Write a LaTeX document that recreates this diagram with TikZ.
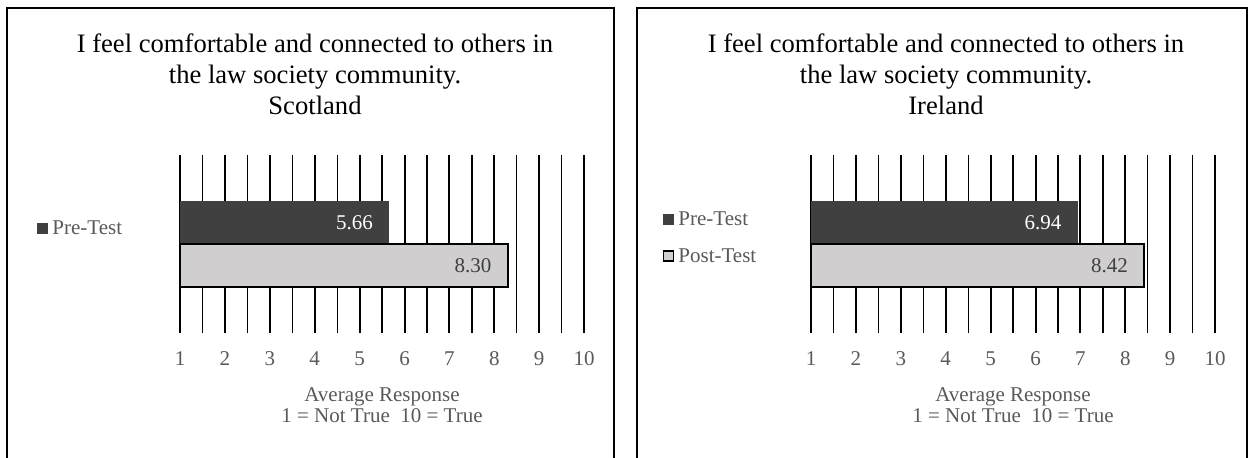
\documentclass[tikz,border=0pt]{standalone}
\usepackage{fontspec}
\setmainfont{Liberation Serif}
\definecolor{barDark}{HTML}{404040}
\definecolor{barLight}{HTML}{D0CECE}
\definecolor{axisGray}{HTML}{595959}
\tikzset{
	panel/.style={draw=black, line width=1pt},
	major/.style={line width=1pt},
	minor/.style={line width=0.65pt},
	darkbar/.style={fill=barDark},
	lightbar/.style={fill=barLight, draw=black, line width=0.75pt},
	charttitle/.style={align=center, inner sep=0pt, font=\fontsize{13.3}{15.5}\selectfont},
	ticklab/.style={inner sep=0pt, text=axisGray, font=\fontsize{10.5}{10.5}\selectfont},
	axistitle/.style={align=center, inner sep=0pt, text=axisGray, font=\fontsize{10.5}{10.5}\selectfont},
	barlab/.style={anchor=east, inner sep=0pt, font=\fontsize{10.5}{10.5}\selectfont},
	legkey/.style={minimum size=5.5pt, inner sep=0pt},
	legtext/.style={anchor=west, inner sep=0pt, text=axisGray, font=\fontsize{10.5}{10.5}\selectfont}
}
\begin{document}
\begin{tikzpicture}[x=0.5pt, y=-0.5pt]
	\useasboundingbox (0,0) rectangle (1252,457);

	% Scotland
	\draw[panel] (7,458) -- (7,8) -- (614,8) -- (614,458);
	\node[charttitle] (titleS) at (315,74) {I feel comfortable and connected to others in\\the law society community.\\Scotland};
	\node[legkey, fill=barDark] (keyPreS) at (42.5,228) {};
	\node[legtext] (legPreS) at (52,228) {Pre-Test};
	\begin{scope}[xshift=90pt]
		\foreach \v in {1,2,...,10}
			\draw[major] ({(\v-1)*44.9},155) -- ({(\v-1)*44.9},333);
		\foreach \v in {1.5,2.5,...,9.5}
			\draw[minor] ({(\v-1)*44.9},155) -- ({(\v-1)*44.9},333);
		\fill[darkbar] (0,201) rectangle ({4.66*44.9},244);
		\draw[lightbar] (0,244) rectangle ({7.30*44.9},287);
		\node[barlab, text=white] (valPreS) at ({4.66*44.9-16},222.5) {5.66};
		\node[barlab, text=barDark] (valPostS) at ({7.30*44.9-16},265.5) {8.30};
		\foreach \v in {1,...,10}
			\node[ticklab] (tickS\v) at ({(\v-1)*44.9},359) {\v};
		\node[axistitle] (axisS) at (202,405) {Average Response\\1 = Not True\ \ 10 = True};
	\end{scope}

	% Ireland
	\draw[panel] (637,458) -- (637,8) -- (1247,8) -- (1247,458);
	\node[charttitle] (titleI) at (946,74) {I feel comfortable and connected to others in\\the law society community.\\Ireland};
	\node[legkey, fill=barDark] (keyPreI) at (668.5,219) {};
	\node[legtext] (legPreI) at (678,219) {Pre-Test};
	\node[legkey, fill=barLight, draw=black, line width=0.6pt, minimum size=5pt] (keyPostI) at (668.5,256) {};
	\node[legtext] (legPostI) at (678,256) {Post-Test};
	\begin{scope}[xshift=405.5pt]
		\foreach \v in {1,2,...,10}
			\draw[major] ({(\v-1)*44.9},155) -- ({(\v-1)*44.9},333);
		\foreach \v in {1.5,2.5,...,9.5}
			\draw[minor] ({(\v-1)*44.9},155) -- ({(\v-1)*44.9},333);
		\fill[darkbar] (0,201) rectangle ({5.94*44.9},244);
		\draw[lightbar] (0,244) rectangle ({7.42*44.9},287);
		\node[barlab, text=white] (valPreI) at ({5.94*44.9-16},222.5) {6.94};
		\node[barlab, text=barDark] (valPostI) at ({7.42*44.9-16},265.5) {8.42};
		\foreach \v in {1,...,10}
			\node[ticklab] (tickI\v) at ({(\v-1)*44.9},359) {\v};
		\node[axistitle] (axisI) at (202,405) {Average Response\\1 = Not True\ \ 10 = True};
	\end{scope}
\end{tikzpicture}
\end{document}
